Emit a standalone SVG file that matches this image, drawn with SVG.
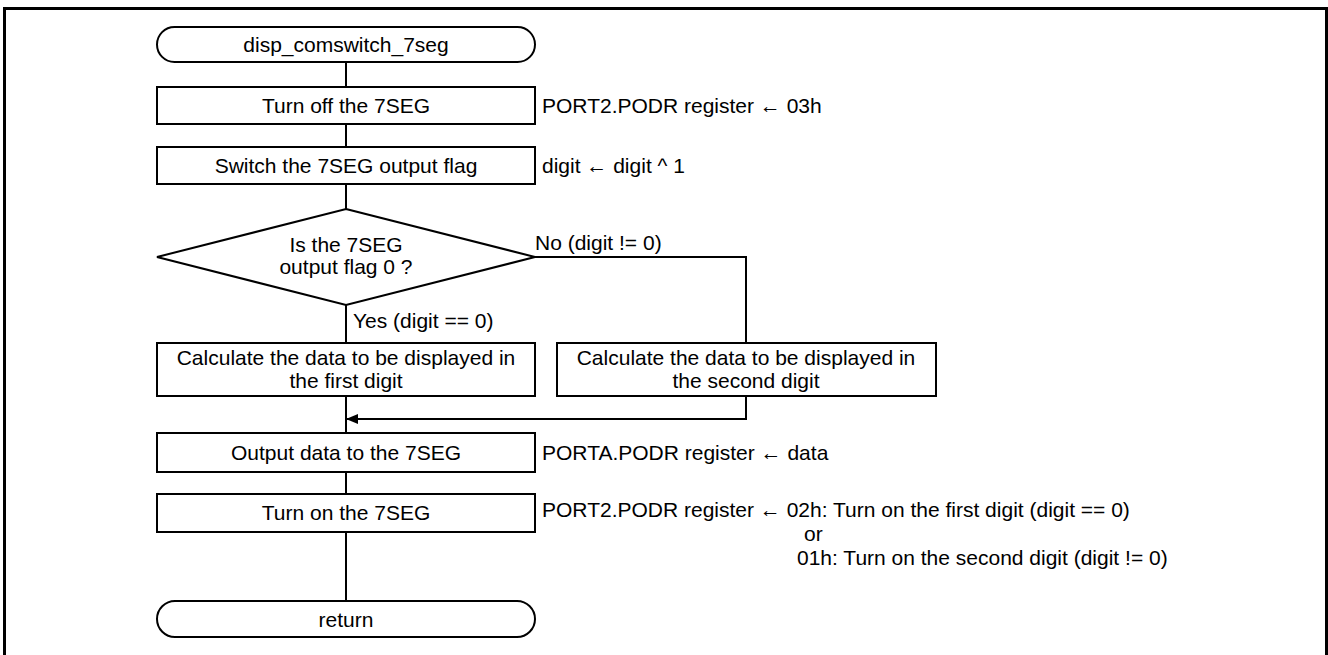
<svg xmlns="http://www.w3.org/2000/svg" width="1328" height="655" viewBox="0 0 1328 655">
  <style>
    .shape { fill: #fff; stroke: #000; stroke-width: 2; }
    .wire { fill: none; stroke: #000; stroke-width: 2; }
    text { font-family: "Liberation Sans", Arial, sans-serif; font-size: 21px; fill: #000; }
    .c { text-anchor: middle; }
  </style>
  <defs>
    <marker id="arrow" markerWidth="12" markerHeight="10" refX="11" refY="5" orient="auto" markerUnits="userSpaceOnUse">
      <path d="M0,0 L12,5 L0,10 Z" fill="#000"/>
    </marker>
  </defs>

  <rect width="1328" height="655" fill="#fff"/>
  <!-- outer frame -->
  <path d="M4.5,655 V8.5 H1326.5 V655" fill="none" stroke="#000" stroke-width="3"/>

  <!-- connectors -->
  <g id="connectors">
    <line class="wire" x1="346" y1="62" x2="346" y2="87"/>
    <line class="wire" x1="346" y1="124" x2="346" y2="147"/>
    <line class="wire" x1="346" y1="184" x2="346" y2="209"/>
    <line class="wire" x1="346" y1="305" x2="346" y2="343"/>
    <polyline class="wire" points="535,257 746,257 746,343"/>
    <line class="wire" x1="346" y1="396" x2="346" y2="433"/>
    <polyline class="wire" points="746,396 746,419 347,419" marker-end="url(#arrow)"/>
    <line class="wire" x1="346" y1="472" x2="346" y2="494"/>
    <line class="wire" x1="346" y1="532" x2="346" y2="601"/>
    <text x="535" y="250">No (digit != 0)</text>
    <text x="353" y="328">Yes (digit == 0)</text>
  </g>

  <g id="start">
    <rect class="shape" x="157" y="27" width="378" height="35" rx="17.5" ry="17.5"/>
    <text class="c" x="346" y="52">disp_comswitch_7seg</text>
  </g>

  <g id="turn-off">
    <rect class="shape" x="157" y="87" width="378" height="37"/>
    <text class="c" x="346" y="113">Turn off the 7SEG</text>
    <text x="542" y="113">PORT2.PODR register ← 03h</text>
  </g>

  <g id="switch-flag">
    <rect class="shape" x="157" y="147" width="378" height="37"/>
    <text class="c" x="346" y="173">Switch the 7SEG output flag</text>
    <text x="542" y="173">digit ← digit ^ 1</text>
  </g>

  <g id="decision">
    <polygon class="shape" points="346,209 535,257 346,305 157,257"/>
    <text class="c" x="346" y="252">Is the 7SEG</text>
    <text class="c" x="346" y="274">output flag 0 ?</text>
  </g>

  <g id="calc-first">
    <rect class="shape" x="157" y="343" width="378" height="53"/>
    <text class="c" x="346" y="365">Calculate the data to be displayed in</text>
    <text class="c" x="346" y="388">the first digit</text>
  </g>

  <g id="calc-second">
    <rect class="shape" x="557" y="343" width="379" height="53"/>
    <text class="c" x="746" y="365">Calculate the data to be displayed in</text>
    <text class="c" x="746" y="388">the second digit</text>
  </g>

  <g id="output-data">
    <rect class="shape" x="157" y="433" width="378" height="39"/>
    <text class="c" x="346" y="460">Output data to the 7SEG</text>
    <text x="542" y="460">PORTA.PODR register ← data</text>
  </g>

  <g id="turn-on">
    <rect class="shape" x="157" y="494" width="378" height="38"/>
    <text class="c" x="346" y="520">Turn on the 7SEG</text>
    <text x="542" y="517">PORT2.PODR register ← 02h: Turn on the first digit (digit == 0)</text>
    <text x="804" y="541">or</text>
    <text x="797" y="565">01h: Turn on the second digit (digit != 0)</text>
  </g>

  <g id="end">
    <rect class="shape" x="157" y="601" width="378" height="36" rx="18" ry="18"/>
    <text class="c" x="346" y="627">return</text>
  </g>
</svg>
